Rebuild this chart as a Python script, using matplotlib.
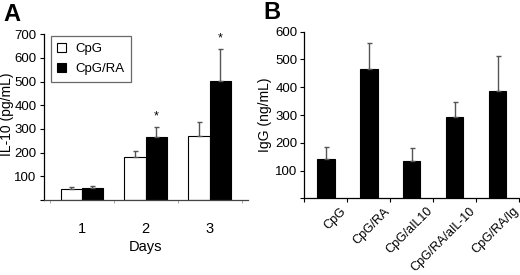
import numpy as np
import matplotlib
matplotlib.use('Agg')
import matplotlib.pyplot as plt

plt.rcParams['font.family'] = ['Liberation Sans', 'DejaVu Sans']

# Panel A: IL-10 by day
days = ['1', '2', '3']
cpg_vals = [45, 180, 271]
cpg_err = [8, 28, 59]
cpgra_vals = [50, 265, 503]
cpgra_err = [8, 44, 135]
star_a = [False, True, True]

# Panel B: IgG by treatment
groups_b = ['CpG', 'CpG/RA', 'CpG/aIL10', 'CpG/RA/aIL-10', 'CpG/RA/Ig']
igg_vals = [141, 464, 135, 292, 387]
igg_err = [45, 96, 45, 56, 126]

W, H = 520, 275
fig = plt.figure(figsize=(W / 100, H / 100), dpi=100)

def px_axes(x0, y0, x1, y1):
    return fig.add_axes([x0 / W, 1 - y1 / H, (x1 - x0) / W, (y1 - y0) / H])

err_kw = dict(ecolor='#555555', elinewidth=1.0, capsize=1.8, capthick=1.0)

# ---- Panel A ----
axA = px_axes(43.5, 34.3, 248, 200)
x = np.arange(len(days))
bw = 0.333
axA.bar(x - bw / 2, cpg_vals, bw, color='white', edgecolor='black', linewidth=0.8,
        yerr=[np.zeros(3), cpg_err], error_kw=err_kw, label='CpG')
axA.bar(x + bw / 2, cpgra_vals, bw, color='black', edgecolor='black', linewidth=0.8,
        yerr=[np.zeros(3), cpgra_err], error_kw=err_kw, label='CpG/RA')
for i, s in enumerate(star_a):
    if s:
        axA.text(x[i] + bw / 2, cpgra_vals[i] + cpgra_err[i] + 45, '*',
                 ha='center', va='center', fontsize=9, clip_on=False)
axA.set_xlim(-0.6, 2.6)
axA.set_ylim(0, 700)
axA.set_yticks(np.arange(0, 701, 100))
axA.set_yticklabels([''] + [str(v) for v in range(100, 701, 100)], fontsize=9.5)
axA.set_xticks(x)
axA.set_xticklabels(days, fontsize=10.5)
axA.tick_params(axis='x', length=0, pad=16)
axA.set_xticks([-0.5, 0.5, 1.5, 2.5], minor=True)
axA.tick_params(axis='x', which='minor', length=2.5, width=0.6, color='#999999')
axA.tick_params(axis='y', length=3, width=0.8, pad=2)
axA.set_xlabel('Days', fontsize=10.5, labelpad=3)
axA.set_ylabel('IL-10 (pg/mL)', fontsize=10)
axA.yaxis.set_label_coords(-0.142, 0.52)
for sp in ['top', 'right']:
    axA.spines[sp].set_visible(False)
for sp in ['left', 'bottom']:
    axA.spines[sp].set_linewidth(0.9)
axA.spines['bottom'].set_color('#444444')
leg = axA.legend(loc='upper left', bbox_to_anchor=(0.025, 1.0), fontsize=9.5,
                 frameon=True, fancybox=False, edgecolor='#444444',
                 handlelength=0.7, handleheight=0.7, handletextpad=0.7,
                 borderpad=0.5, labelspacing=0.6, borderaxespad=0.15)
leg.get_frame().set_linewidth(0.9)

# ---- Panel B ----
axB = px_axes(304.3, 31.7, 519, 198.3)
xb = np.arange(len(groups_b))
axB.bar(xb, igg_vals, 0.41, color='black', edgecolor='black', linewidth=0.8,
        yerr=[np.zeros(len(xb)), igg_err], error_kw=err_kw)
axB.set_xlim(-0.5, 4.5)
axB.set_ylim(0, 600)
axB.set_yticks(np.arange(0, 601, 100))
axB.set_yticklabels([''] + [str(v) for v in range(100, 601, 100)], fontsize=9.5)
# rotated labels sit a little to the right of each bar, as in the original
axB.set_xticks(xb + 0.34)
axB.set_xticklabels(groups_b, fontsize=9, rotation=45, ha='right',
                    rotation_mode='anchor')
axB.tick_params(axis='x', length=0, pad=5)
axB.set_xticks(np.arange(-0.5, 4.6, 1), minor=True)
axB.tick_params(axis='x', which='minor', length=3, width=0.8)
axB.tick_params(axis='y', length=3, width=0.8, pad=2)
axB.set_ylabel('IgG (ng/mL)', fontsize=10)
axB.yaxis.set_label_coords(-0.150, 0.5)
for sp in ['top', 'right']:
    axB.spines[sp].set_visible(False)
for sp in ['left', 'bottom']:
    axB.spines[sp].set_linewidth(0.9)

fig.text(3 / W, 1 - 3 / H, 'A', fontsize=17, fontweight='bold', ha='left', va='top')
fig.text(263 / W, 1 - 1 / H, 'B', fontsize=17, fontweight='bold', ha='left', va='top')

fig.savefig('out.png', dpi=100)
